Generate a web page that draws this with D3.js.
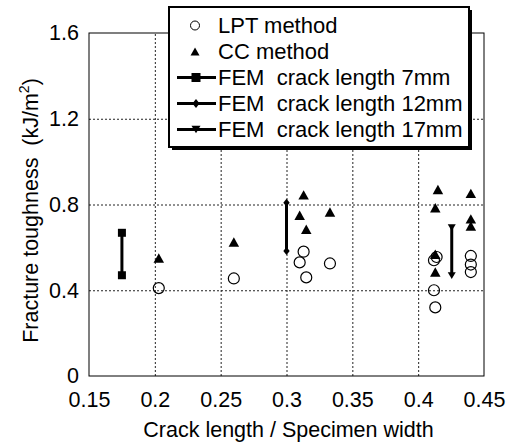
<!DOCTYPE html>
<html>
<head>
<meta charset="utf-8">
<script src="https://cdnjs.cloudflare.com/ajax/libs/d3/7.8.5/d3.min.js"></script>
<style>
  body { margin: 0; background: #fff; }
  text { font-family: "Liberation Sans", Arial, sans-serif; fill: #000; }
</style>
</head>
<body>
<div class="chart"></div>
<script>
// LPT method (open circles)
var lptX = [0.203, 0.26, 0.313, 0.31, 0.315, 0.333, 0.414, 0.412, 0.412, 0.413, 0.44, 0.44, 0.44];
var lptY = [0.41, 0.455, 0.58, 0.53, 0.46, 0.525, 0.555, 0.54, 0.40, 0.32, 0.56, 0.52, 0.485];

// CC method (filled triangles)
var ccX = [0.203, 0.26, 0.313, 0.31, 0.315, 0.333, 0.415, 0.413, 0.413, 0.413, 0.44, 0.44, 0.44];
var ccY = [0.55, 0.625, 0.845, 0.75, 0.685, 0.765, 0.87, 0.785, 0.568, 0.485, 0.852, 0.733, 0.70];

// FEM ranges
var femLabels = ["FEM  crack length 7mm", "FEM  crack length 12mm", "FEM  crack length 17mm"];
var femMarkers = ["square", "diamond", "triangleDown"];
var femX = [0.175, 0.3, 0.4255];
var femLow = [0.47, 0.583, 0.468];
var femHigh = [0.668, 0.808, 0.692];

var xTicks = [0.15, 0.2, 0.25, 0.3, 0.35, 0.4, 0.45];
var yTicks = [0, 0.4, 0.8, 1.2, 1.6];

var W = 516, H = 445;
var margin = {top: 33, right: 32, bottom: 69, left: 89};
var width = W - margin.left - margin.right,
    height = H - margin.top - margin.bottom;

var x = d3.scaleLinear().domain([0.15, 0.45]).range([0, width]);
var y = d3.scaleLinear().domain([0, 1.6]).range([height, 0]);

var svg = d3.select(".chart").append("svg")
  .attr("width", W)
  .attr("height", H);

var g = svg.append("g")
  .attr("transform", "translate(" + margin.left + "," + margin.top + ")");

// marker shapes
function marker(type, s) {
  if (type == "square") return "M" + (-s/2) + "," + (-s/2) + "h" + s + "v" + s + "h" + (-s) + "Z";
  if (type == "diamond") return "M0," + (-s/2) + "L" + (s*0.4) + ",0L0," + (s/2) + "L" + (-s*0.4) + ",0Z";
  if (type == "triangleDown") return "M" + (-s/2) + "," + (-s*0.42) + "L" + (s/2) + "," + (-s*0.42) + "L0," + (s*0.42) + "Z";
  // triangle up
  return "M0," + (-s*0.45) + "L" + (s/2) + "," + (s*0.45) + "L" + (-s/2) + "," + (s*0.45) + "Z";
}

// grid lines
g.append("g")
  .attr("class", "grid")
  .attr("transform", "translate(0," + height + ")")
  .call(d3.axisBottom(x).tickValues(xTicks.slice(1, -1)).tickSize(-height).tickFormat(""))
  .call(s => s.select(".domain").remove());
g.append("g")
  .attr("class", "grid")
  .call(d3.axisLeft(y).tickValues(yTicks.slice(1, -1)).tickSize(-width).tickFormat(""))
  .call(s => s.select(".domain").remove());
g.selectAll(".grid line")
  .attr("stroke", "#222")
  .attr("stroke-width", 1)
  .attr("stroke-dasharray", "2,2");

// frame
g.append("rect")
  .attr("width", width)
  .attr("height", height)
  .attr("fill", "none")
  .attr("stroke", "#000")
  .attr("stroke-width", 1);

// tick labels
var xAxis = g.append("g")
  .attr("transform", "translate(0," + height + ")")
  .call(d3.axisBottom(x).tickValues(xTicks).tickSize(0).tickPadding(16).tickFormat(d => String(d)));
var yAxis = g.append("g")
  .call(d3.axisLeft(y).tickValues(yTicks).tickSize(0).tickPadding(10).tickFormat(d => String(d)));
xAxis.select(".domain").remove();
yAxis.select(".domain").remove();
g.selectAll(".tick text").attr("font-size", 21.5).attr("font-family", null);

// axis titles
svg.append("text")
  .attr("x", margin.left + width / 2 + 2)
  .attr("y", 437)
  .attr("text-anchor", "middle")
  .attr("font-size", 21.5)
  .text("Crack length / Specimen width");

var yt = svg.append("text")
  .attr("transform", "translate(37.5," + (margin.top + height / 2 + 6) + ") rotate(-90)")
  .attr("text-anchor", "middle")
  .attr("font-size", 21.5)
  .style("white-space", "pre");
yt.append("tspan").text("Fracture toughness  (kJ/m");
yt.append("tspan").attr("font-size", 14).attr("dy", -9).text("2");
yt.append("tspan").attr("dy", 9).text(")");

// FEM bars
femX.forEach(function(fx, i) {
  var fem = g.append("g");
  fem.append("line")
    .attr("x1", x(fx)).attr("x2", x(fx))
    .attr("y1", y(femLow[i])).attr("y2", y(femHigh[i]))
    .attr("stroke", "#000")
    .attr("stroke-width", 3);
  fem.selectAll("path")
    .data([femLow[i], femHigh[i]])
    .enter().append("path")
    .attr("transform", d => "translate(" + x(fx) + "," + y(d) + ")")
    .attr("d", marker(femMarkers[i], 8))
    .attr("fill", "#000");
});

// LPT circles
g.selectAll(".lpt")
  .data(lptX)
  .enter().append("circle")
  .attr("class", "lpt")
  .attr("cx", d => x(d))
  .attr("cy", (d, i) => y(lptY[i]))
  .attr("r", 5.5)
  .attr("fill", "none")
  .attr("stroke", "#000")
  .attr("stroke-width", 1.2);

// CC triangles
g.selectAll(".cc")
  .data(ccX)
  .enter().append("path")
  .attr("class", "cc")
  .attr("transform", (d, i) => "translate(" + x(d) + "," + y(ccY[i]) + ")")
  .attr("d", marker("triangle", 10.5))
  .attr("fill", "#000");

// legend
var lx = 169, ly = 7, lw = 300, lh = 140;
var legend = svg.append("g");
legend.append("rect")
  .attr("x", lx + 3).attr("y", ly + 3)
  .attr("width", lw).attr("height", lh)
  .attr("fill", "#000");
legend.append("rect")
  .attr("x", lx).attr("y", ly)
  .attr("width", lw).attr("height", lh)
  .attr("fill", "#fff")
  .attr("stroke", "#000")
  .attr("stroke-width", 2);

var rows = ["LPT method", "CC method"].concat(femLabels);
var item = legend.selectAll(".item")
  .data(rows)
  .enter().append("g")
  .attr("class", "item")
  .attr("transform", (d, i) => "translate(0," + (25.5 + i * 26) + ")");

item.append("text")
  .attr("x", 218)
  .attr("dy", "0.36em")
  .attr("font-size", 22)
  .style("white-space", "pre")
  .text(d => d);

item.filter((d, i) => i == 0).append("circle")
  .attr("cx", 195).attr("r", 4.5)
  .attr("fill", "none").attr("stroke", "#000").attr("stroke-width", 1);
item.filter((d, i) => i == 1).append("path")
  .attr("transform", "translate(195,0)")
  .attr("d", marker("triangle", 9))
  .attr("fill", "#000");
item.filter((d, i) => i >= 2).each(function(d, i) {
  var it = d3.select(this);
  it.append("line")
    .attr("x1", 177).attr("x2", 216)
    .attr("stroke", "#000").attr("stroke-width", 3);
  it.append("path")
    .attr("transform", "translate(196,0)")
    .attr("d", marker(femMarkers[i], 9))
    .attr("fill", "#000");
});
</script>
</body>
</html>
